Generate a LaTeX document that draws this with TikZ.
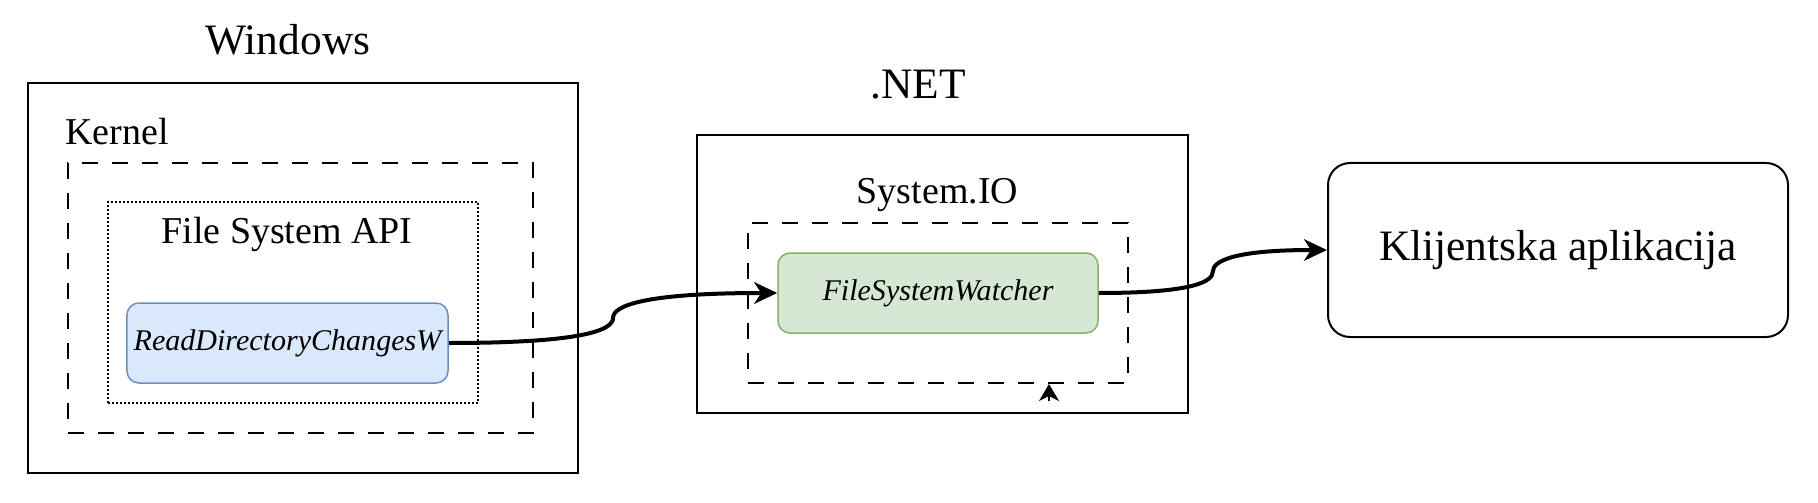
\documentclass[tikz,border=0pt]{standalone}
\usepackage{fontspec}
\setmainfont{Liberation Serif}
\usetikzlibrary{arrows.meta,positioning,calc}

\definecolor{apiblue}{HTML}{DAE8FC}
\definecolor{apiblueline}{HTML}{6C8EBF}
\definecolor{netgreen}{HTML}{D5E8D4}
\definecolor{netgreenline}{HTML}{82B366}

\begin{document}
\begin{tikzpicture}[x=0.2mm, y=-0.2mm,
    big/.style={font=\fontsize{24.7}{29}\selectfont},
    mid/.style={font=\fontsize{21.6}{26}\selectfont},
    solidbox/.style={draw, line width=0.4mm, inner sep=0pt},
    dashbox/.style={draw, line width=0.4mm, dash pattern=on 3.2mm off 2.8mm, inner sep=0pt},
    dotbox/.style={draw, line width=0.3mm, dash pattern=on 0.4mm off 0.4mm, inner sep=0pt},
    funcbox/.style={draw, line width=0.3mm, rounded corners=2.4mm, inner sep=0pt,
      font=\fontsize{17.1}{20}\selectfont\itshape},
    flow/.style={line width=0.8mm, -{Stealth[length=4.6mm,width=4.3mm,inset=1.4mm]}}]
  \useasboundingbox (0,0) rectangle (1818,503);

  % Windows side
  \node[solidbox, minimum width=110.1mm, minimum height=78mm] at (302.8,278) (windows) {};
  \node[big, anchor=base] at (288,55) (windowslabel) {Windows};
  \node[dashbox, minimum width=93mm, minimum height=54mm] at (300.5,298) (kernel) {};
  \node[mid, anchor=base] at (117,144) (kernellabel) {Kernel};
  \node[dotbox, minimum width=74mm, minimum height=40.2mm] at (293,302.5) (fsapi) {};
  \node[mid, anchor=base] at (287,243) (fsapilabel) {File System API};
  \node[funcbox, fill=apiblue, draw=apiblueline, minimum width=64.2mm, minimum height=16mm] at (287.5,343) (rdcw) {ReadDirectoryChangesW};

  % .NET side
  \node[solidbox, minimum width=98.2mm, minimum height=55.6mm] at (942.5,274) (dotnet) {};
  \node[big, anchor=base] at (918,99) (dotnetlabel) {.NET};
  \node[dashbox, minimum width=76mm, minimum height=32mm] at (938,303) (sysio) {};
  \node[mid, anchor=base] at (937.5,203) (sysiolabel) {System.IO};
  \node[funcbox, fill=netgreen, draw=netgreenline, minimum width=64mm, minimum height=16mm] at (938,293) (fsw) {FileSystemWatcher};

  % client
  \node[solidbox, big, rounded corners=4.4mm, minimum width=92mm, minimum height=34.8mm] at (1558,250) (client) {Klijentska aplikacija};

  \coordinate (bend1) at ($(rdcw.east)!0.5!(fsw.west)$);
  \coordinate (bend2) at ($(fsw.east)!0.5!(client.west)$);
  \coordinate (stubtip) at ($(sysio.south)+(111,0)$);
  \coordinate (stubbase) at ($(sysio.south)+(111,17)$);

  \draw[flow] (rdcw.east) .. controls +(135,0) and +(0,12) .. (bend1) .. controls +(0,-12) and +(-135,0) .. (fsw.west);
  \draw[flow] (fsw.east) .. controls +(95,0) and +(0,10) .. (bend2) .. controls +(0,-10) and +(-95,0) .. (client.west);
  \draw[line width=0.4mm, -{Stealth[length=3.4mm,width=4mm,inset=1mm]}] (stubbase) -- (stubtip);

\end{tikzpicture}
\end{document}
